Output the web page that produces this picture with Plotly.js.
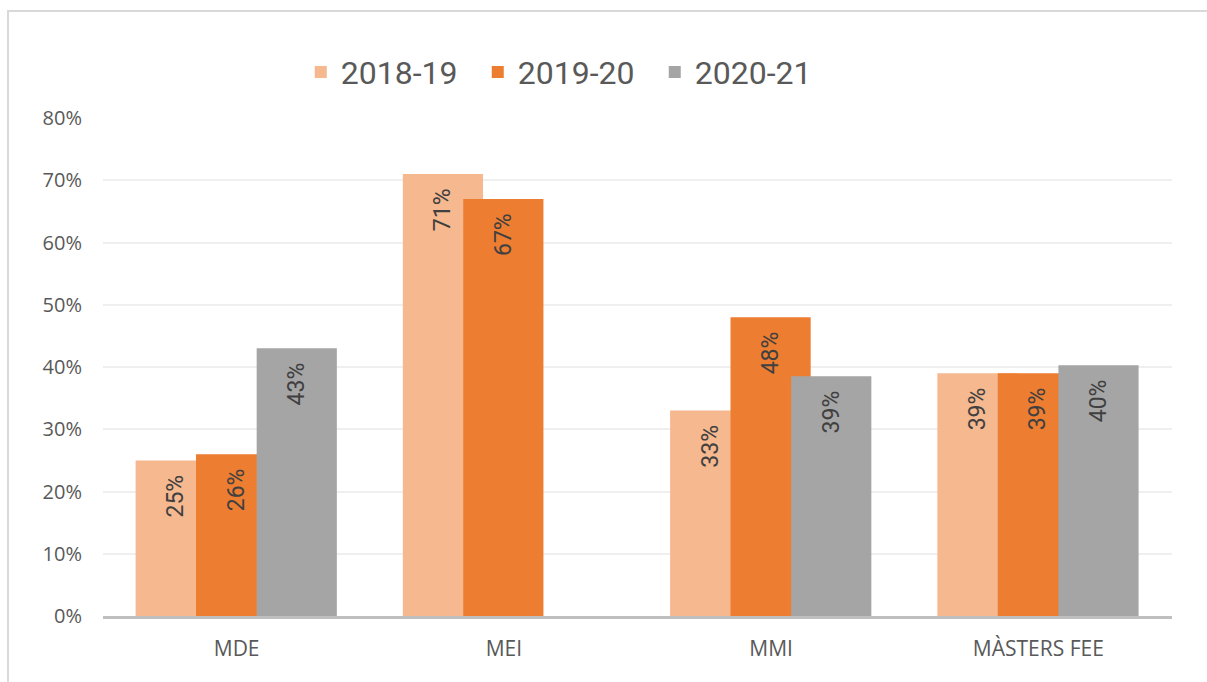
<!DOCTYPE html>
<html>
<head>
<meta charset="utf-8">
<script src="https://cdn.plot.ly/plotly-3.0.1.min.js"></script>
<style>
  html, body { margin: 0; padding: 0; background: #ffffff; }
  #wrap { position: relative; width: 1207px; height: 682px; overflow: hidden; }
  #chart { width: 1207px; height: 682px; }
  .frameL { position: absolute; left: 7px; top: 10px; width: 2px; height: 672px; background: #d9d9d9; }
  .frameT { position: absolute; left: 7px; top: 10px; width: 1200px; height: 2px; background: #d9d9d9; }
</style>
</head>
<body>
<div id="wrap">
  <div id="chart"></div>
  <div class="frameL"></div>
  <div class="frameT"></div>
</div>
<script>
// ---- data ----
const categories = ["MDE", "MEI", "MMI", "MÀSTERS FEE"];
const seriesNames = ["2018-19", "2019-20", "2020-21"];
const values2018_19 = [25, 71, 33, 39];
const values2019_20 = [26, 67, 48, 39];
const values2020_21 = [43, null, 38.5, 40.3];
const yTickValues = [0, 10, 20, 30, 40, 50, 60, 70, 80];
const yTickLabels = ["0%", "10%", "20%", "30%", "40%", "50%", "60%", "70%", "80%"];

// ---- styles ----
const colors = ["#F5B88F", "#ED7D31", "#A5A5A5"];
const offsets = [-0.378, -0.152, 0.075];
const barWidth = 0.30;
const seriesValues = [values2018_19, values2019_20, values2020_21];
const labelFont = { family: "Roboto, sans-serif", size: 23, color: "#404040" };

const traces = seriesValues.map((vals, i) => ({
  type: "bar",
  name: seriesNames[i],
  x: categories,
  y: vals,
  width: barWidth,
  offset: offsets[i],
  marker: { color: colors[i] },
  texttemplate: "%{y:.0f}%\u00a0\u00a0",
  textposition: "inside",
  insidetextanchor: "end",
  textangle: -90,
  constraintext: "none",
  insidetextfont: labelFont,
  cliponaxis: false,
  hoverinfo: "skip"
}));

const layout = {
  width: 1207,
  height: 682,
  margin: { l: 103, r: 35, t: 118, b: 66, pad: 0 },
  paper_bgcolor: "#ffffff",
  plot_bgcolor: "#ffffff",
  barmode: "overlay",
  showlegend: true,
  legend: {
    orientation: "h",
    x: 0.185,
    xanchor: "left",
    y: 1.092,
    yanchor: "middle",
    font: { family: "Roboto, sans-serif", size: 32, color: "#595959" },
    entrywidth: 132,
    traceorder: "normal",
    bgcolor: "rgba(0,0,0,0)"
  },
  xaxis: {
    type: "category",
    categoryorder: "array",
    categoryarray: categories,
    range: [-0.5, 3.5],
    showgrid: false,
    zeroline: false,
    showline: true,
    linecolor: "#BFBFBF",
    linewidth: 3,
    ticks: "",
    ticklabelstandoff: 12,
    tickfont: { family: "Open Sans, sans-serif", size: 21, color: "#595959" },
    fixedrange: true
  },
  yaxis: {
    range: [0, 80],
    tickvals: yTickValues,
    ticktext: yTickLabels,
    showgrid: true,
    gridcolor: "#EFEFEF",
    gridwidth: 2,
    zeroline: false,
    showline: false,
    ticks: "",
    ticklabelstandoff: 20,
    tickfont: { family: "Open Sans, sans-serif", size: 20, color: "#595959" },
    fixedrange: true
  }
};

Plotly.newPlot("chart", traces, layout, { staticPlot: true, displayModeBar: false });
</script>
</body>
</html>
